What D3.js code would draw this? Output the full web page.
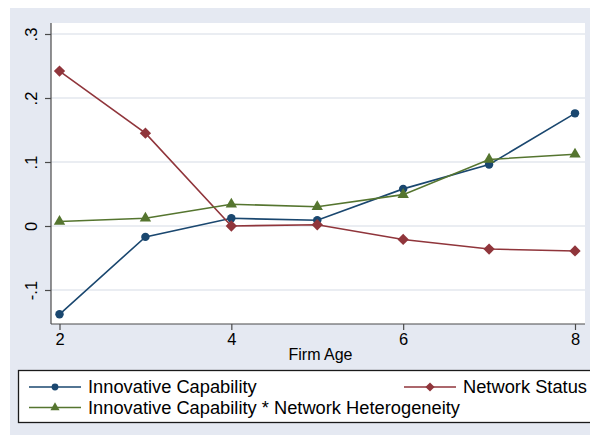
<!DOCTYPE html>
<html>
<head>
<meta charset="utf-8">
<script src="https://cdn.jsdelivr.net/npm/d3@7/dist/d3.min.js"></script>
<style>
  html, body { margin: 0; padding: 0; background: #ffffff; }
  svg { display: block; font-family: "Liberation Sans", Arial, Helvetica, sans-serif; }
</style>
</head>
<body>
<svg id="chart" width="590" height="435"></svg>
<script>
// Firm age on the x axis
const firmAge = [2, 3, 4, 5, 6, 7, 8];
const xTicks = [2, 4, 6, 8];
const yTicks = [-0.1, 0, 0.1, 0.2, 0.3];
const yTickLabels = ["-.1", "0", ".1", ".2", ".3"];

// Marginal effects by firm age
const innovativeCapability = [-0.138, -0.017, 0.012, 0.009, 0.058, 0.096, 0.176];
const networkStatus = [0.242, 0.145, 0.000, 0.002, -0.021, -0.036, -0.039];
const interaction = [0.007, 0.012, 0.034, 0.030, 0.049, 0.104, 0.112];

const seriesNames = ["Innovative Capability", "Network Status", "Innovative Capability * Network Heterogeneity"];

// square diamond (a square turned 45 degrees)
const squareDiamond = {
  draw(context, size) {
    const r = Math.sqrt(size / 2);
    context.moveTo(0, -r);
    context.lineTo(r, 0);
    context.lineTo(0, r);
    context.lineTo(-r, 0);
    context.closePath();
  }
};

const series = [
  { name: seriesNames[0], values: innovativeCapability, color: "#1a476f", symbol: d3.symbolCircle, size: 56 },
  { name: seriesNames[1], values: networkStatus, color: "#90353b", symbol: squareDiamond, size: 64 },
  { name: seriesNames[2], values: interaction, color: "#55752f", symbol: d3.symbolTriangle, size: 56 }
];

const svg = d3.select("#chart");

// graph region
svg.append("rect").attr("x", 10).attr("y", 8).attr("width", 580).attr("height", 427)
  .attr("fill", "#e5e9f2");

// plot region
const plot = { left: 51, right: 585, top: 23, bottom: 324 };
svg.append("rect").attr("x", plot.left).attr("y", plot.top)
  .attr("width", plot.right - plot.left).attr("height", plot.bottom - plot.top)
  .attr("fill", "#ffffff");

const x = d3.scaleLinear().domain([2, 8]).range([59.5, 575]);
const y = d3.scaleLinear().domain([-0.1, 0.3]).range([290, 34]);

// horizontal gridlines
svg.append("g").selectAll("line").data(yTicks).join("line")
  .attr("x1", plot.left).attr("x2", plot.right)
  .attr("y1", d => y(d)).attr("y2", d => y(d))
  .attr("stroke", "#e3e7ee").attr("stroke-width", 1.3);

// y axis
const yAxis = svg.append("g").attr("transform", `translate(${plot.left},0)`)
  .call(d3.axisLeft(y).tickValues(yTicks).tickSize(6).tickPadding(0)
    .tickFormat((d, i) => yTickLabels[i]));
yAxis.select(".domain").attr("d", `M0,${plot.top}V${plot.bottom}`).attr("stroke", "#4a4a4a").attr("stroke-width", 1.2);
yAxis.selectAll(".tick line").attr("stroke", "#4a4a4a").attr("stroke-width", 1.2);
yAxis.selectAll(".tick text")
  .attr("x", 0).attr("dy", null)
  .attr("transform", "translate(-14,0) rotate(-90)")
  .attr("text-anchor", "middle")
  .attr("font-size", 16.5).attr("fill", "#000");

// x axis
const xAxis = svg.append("g").attr("transform", `translate(0,${plot.bottom})`)
  .call(d3.axisBottom(x).tickValues(xTicks).tickSize(6).tickPadding(3).tickFormat(d3.format("d")));
xAxis.select(".domain").attr("d", `M${plot.left},0H${plot.right}`).attr("stroke", "#4a4a4a").attr("stroke-width", 1.2);
xAxis.selectAll(".tick line").attr("stroke", "#4a4a4a").attr("stroke-width", 1.2);
xAxis.selectAll(".tick text").attr("font-size", 16.5).attr("fill", "#000");

// x axis title
svg.append("text").attr("x", 320.5).attr("y", 359.5).attr("text-anchor", "middle")
  .attr("font-size", 16).attr("fill", "#000").text("Firm Age");

// series lines and markers
const line = d3.line().x((d, i) => x(firmAge[i])).y(d => y(d));
series.forEach(s => {
  svg.append("path").datum(s.values).attr("d", line)
    .attr("fill", "none").attr("stroke", s.color).attr("stroke-width", 1.6);
  svg.append("g").selectAll("path").data(s.values).join("path")
    .attr("transform", (d, i) => `translate(${x(firmAge[i])},${y(d)})`)
    .attr("d", d3.symbol().type(s.symbol).size(s.size))
    .attr("fill", s.color);
});

// legend
svg.append("rect").attr("x", 18.5).attr("y", 370.5).attr("width", 580).attr("height", 52)
  .attr("fill", "#ffffff").attr("stroke", "#1a1a1a").attr("stroke-width", 1.3);

const legendItems = [
  { s: series[0], x0: 29, y0: 387 },
  { s: series[1], x0: 404, y0: 387 },
  { s: series[2], x0: 29, y0: 407.5 }
];
legendItems.forEach(item => {
  const g = svg.append("g");
  g.append("line").attr("x1", item.x0).attr("x2", item.x0 + 52)
    .attr("y1", item.y0).attr("y2", item.y0)
    .attr("stroke", item.s.color).attr("stroke-width", 1.6);
  g.append("path").attr("transform", `translate(${item.x0 + 26},${item.y0})`)
    .attr("d", d3.symbol().type(item.s.symbol).size(item.s.size * 0.65))
    .attr("fill", item.s.color);
  g.append("text").attr("x", item.x0 + 59).attr("y", item.y0).attr("dy", "0.35em")
    .attr("font-size", 18.3).attr("fill", "#000").text(item.s.name);
});
</script>
</body>
</html>
